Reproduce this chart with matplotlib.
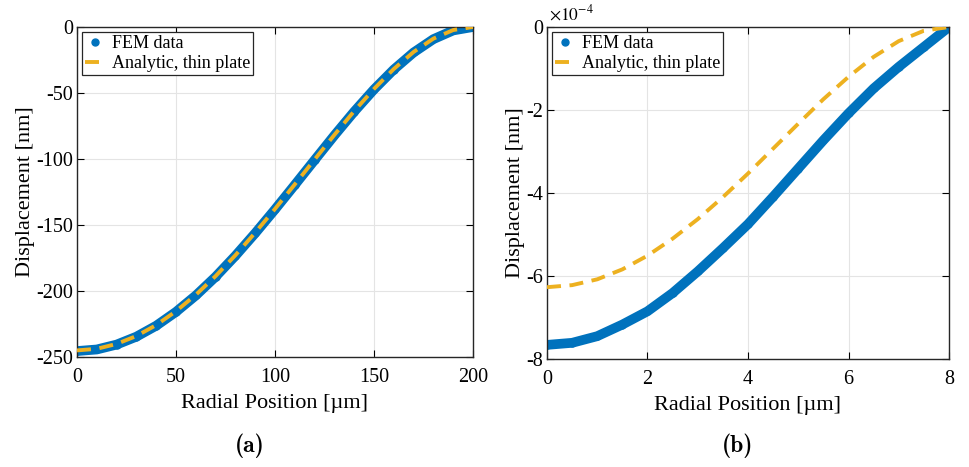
import numpy as np
import matplotlib
matplotlib.use("Agg")
import matplotlib.pyplot as plt

plt.rcParams["font.family"] = ["Liberation Serif", "DejaVu Serif"]
plt.rcParams["axes.unicode_minus"] = False

BLUE = "#0072BD"
GOLD = "#EDB120"

# (a) 200 um plate, displacement in nm
r_a = [0, 10, 20, 30, 40, 50, 60, 70, 80, 90, 100,
       110, 120, 130, 140, 150, 160, 170, 180, 190, 200]
fem_a = [-245.5, -244.3, -240.6, -234.6, -226.3, -215.8, -203.4, -189.2, -173.3, -156.2, -138.2,
         -119.6, -100.8, -82.1, -64.1, -47.3, -32.2, -19.3, -9.2, -2.6, 0.0]
ana_a = [-245.0, -243.8, -240.1, -234.1, -225.8, -215.3, -202.9, -188.7, -172.9, -155.8, -137.8,
         -119.2, -100.4, -81.7, -63.7, -46.9, -31.8, -18.9, -8.8, -2.3, 0.0]

# (b) 8 um plate, displacement in units of 1e-4 nm
r_b = [0, 0.5, 1, 1.5, 2, 2.5, 3, 3.5, 4, 4.5, 5, 5.5, 6, 6.5, 7, 7.5, 8]
fem_b = [-7.66, -7.61, -7.45, -7.17, -6.85, -6.41, -5.89, -5.33, -4.75,
         -4.09, -3.41, -2.73, -2.08, -1.48, -0.96, -0.48, 0.0]
ana_b = [-6.27, -6.22, -6.08, -5.84, -5.51, -5.10, -4.63, -4.10, -3.53,
         -2.93, -2.33, -1.74, -1.20, -0.72, -0.34, -0.09, 0.0]


def style_axes(ax, xlim, ylim, xticks, yticks):
    ax.set_xlim(*xlim)
    ax.set_ylim(*ylim)
    ax.set_xticks(xticks)
    ax.set_yticks(yticks)
    ax.grid(True, color="#e4e4e4", lw=0.8)
    ax.set_axisbelow(True)
    ax.tick_params(direction="in", top=True, right=True, labelsize=14.5,
                   length=5, width=0.8)
    ax.tick_params(axis="x", pad=8)
    ax.tick_params(axis="y", pad=3)
    for s in ax.spines.values():
        s.set_linewidth(1.0)
        s.set_color("#262626")
    ax.set_xlabel("Radial Position [\u00b5m]", fontsize=16, labelpad=5)
    ax.set_ylabel("Displacement [nm]", fontsize=16, labelpad=1)


def draw(ax, r, fem, ana):
    ax.plot(r, fem, color=BLUE, lw=7, solid_capstyle="round",
            solid_joinstyle="round", zorder=2)
    ax.plot(r, fem, "o", color=BLUE, ms=5, label="FEM data", zorder=2)
    ax.plot(r, ana, "--", color=GOLD, lw=2.8, dashes=(3.6, 2.2),
            label="Analytic, thin plate", zorder=3)
    leg = ax.legend(loc="upper left", fontsize=13, fancybox=False,
                    edgecolor="#262626", framealpha=1, borderpad=0.15,
                    handlelength=1.1, handletextpad=0.4, labelspacing=0.15,
                    borderaxespad=0.3)
    leg.get_frame().set_linewidth(0.9)


fig = plt.figure(figsize=(9.7, 4.67), dpi=100)
ax1 = fig.add_axes([77 / 970, 1 - 357 / 467, 396 / 970, 330 / 467])
ax2 = fig.add_axes([547 / 970, 1 - 359 / 467, 402 / 970, 332 / 467])

draw(ax1, r_a, fem_a, ana_a)
style_axes(ax1, (0, 200), (-250, 0), [0, 50, 100, 150, 200],
           [-250, -200, -150, -100, -50, 0])

draw(ax2, r_b, fem_b, ana_b)
style_axes(ax2, (0, 8), (-8, 0), [0, 2, 4, 6, 8], [-8, -6, -4, -2, 0])
ax2.text(0.005, 1.01, r"$\times10^{-4}$", transform=ax2.transAxes,
         fontsize=12.5, ha="left", va="bottom",
         math_fontfamily="stix")

fig.text(250 / 970, 1 - 446 / 467, "(a)", fontsize=17,
         ha="center", va="center", family=["cmb10", "DejaVu Serif"])
fig.text(738 / 970, 1 - 446 / 467, "(b)", fontsize=17,
         ha="center", va="center", family=["cmb10", "DejaVu Serif"])

fig.savefig("out.png", dpi=100)
